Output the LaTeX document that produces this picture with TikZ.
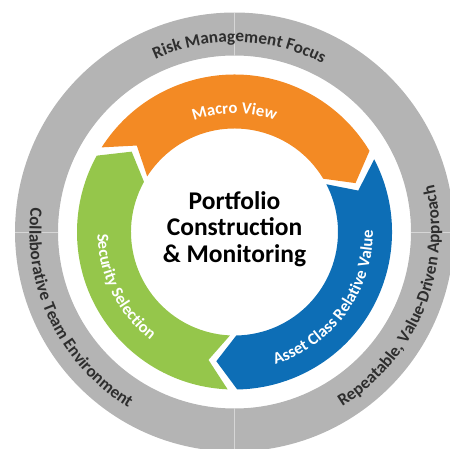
\documentclass[tikz,border=0pt]{standalone}
\usepackage{fontspec}
\setmainfont{Carlito}
\usetikzlibrary{decorations.text}
\definecolor{arancio}{HTML}{F38A24}
\definecolor{verde}{HTML}{95C64B}
\definecolor{blu}{HTML}{0D6EB6}
\definecolor{grigio}{HTML}{B4B4B4}
\definecolor{scuro}{HTML}{2E2E2E}
\newcommand\fontanello{\fontsize{16.6}{16.6}\selectfont\bfseries}
\newcommand\fontesterno{\fontsize{17.2}{17.2}\selectfont\bfseries}

\begin{document}
\begin{tikzpicture}[x=1pt,y=1pt]

\pgfmathsetmacro{\rint}{103.5}
\pgfmathsetmacro{\rext}{157.5}
\pgfmathsetmacro{\rmed}{130.5}
\pgfmathsetmacro{\rgrigioa}{176.5}
\pgfmathsetmacro{\rgrigiob}{219.5}

\useasboundingbox (-234.5,-216) rectangle (215.5,232);
\clip (-234.5,-216) rectangle (215.5,232);

\coordinate (o) at (0,0);

\begin{scope}
\fill[grigio,even odd rule] (o) circle (\rgrigiob) (o) circle (\rgrigioa);
\foreach \a in {0,90,180,270}
  \draw[grigio!55!white,line width=.5pt] (\a:\rgrigioa) -- (\a:\rgrigiob);

\foreach \s/\col in {147.5/arancio,27.5/blu,-92.5/verde}{
  \pgfmathsetmacro{\e}{\s-116.5}
  \fill[\col] (\s:\rext) arc (\s:\e:\rext) -- (\e-9:\rmed) -- (\e:\rint)
    arc (\e:\s:\rint) -- (\s-9:\rmed) -- cycle;
}

\path[decorate,decoration={text along path,text align=center,text color=white,
  text={|\fontanello|Macro View}}] (150:118.5) arc (150:30:118.5);
\path[decorate,decoration={text along path,text align=center,text color=white,
  text={|\fontanello|Security Selection}}] (146.5:137) arc (146.5:266.5:137);
\path[decorate,decoration={text along path,text align=center,text color=white,
  text={|\fontanello|Asset Class Relative Value}}] (-96:138.5) arc (-96:24:138.5);

\path[decorate,decoration={text along path,text align=center,text color=scuro,
  text={|\fontesterno|Risk Management Focus}}] (150:190) arc (150:27:190);
\path[decorate,decoration={text along path,text align=center,text color=scuro,
  text={|\fontesterno|Collaborative Team Environment}}] (130:205) arc (130:282:205);
\path[decorate,decoration={text along path,text align=center,text color=scuro,
  text={|\fontesterno|Repeatable, Value-Driven Approach}}] (-102.5:205) arc (-102.5:57.5:205);

\node[align=center,inner sep=0pt,font=\fontsize{25.5}{26.5}\selectfont\bfseries] (centro) at (0,3)
  {Portfolio\\Construction\\\& Monitoring};
\end{scope}

\end{tikzpicture}
\end{document}
